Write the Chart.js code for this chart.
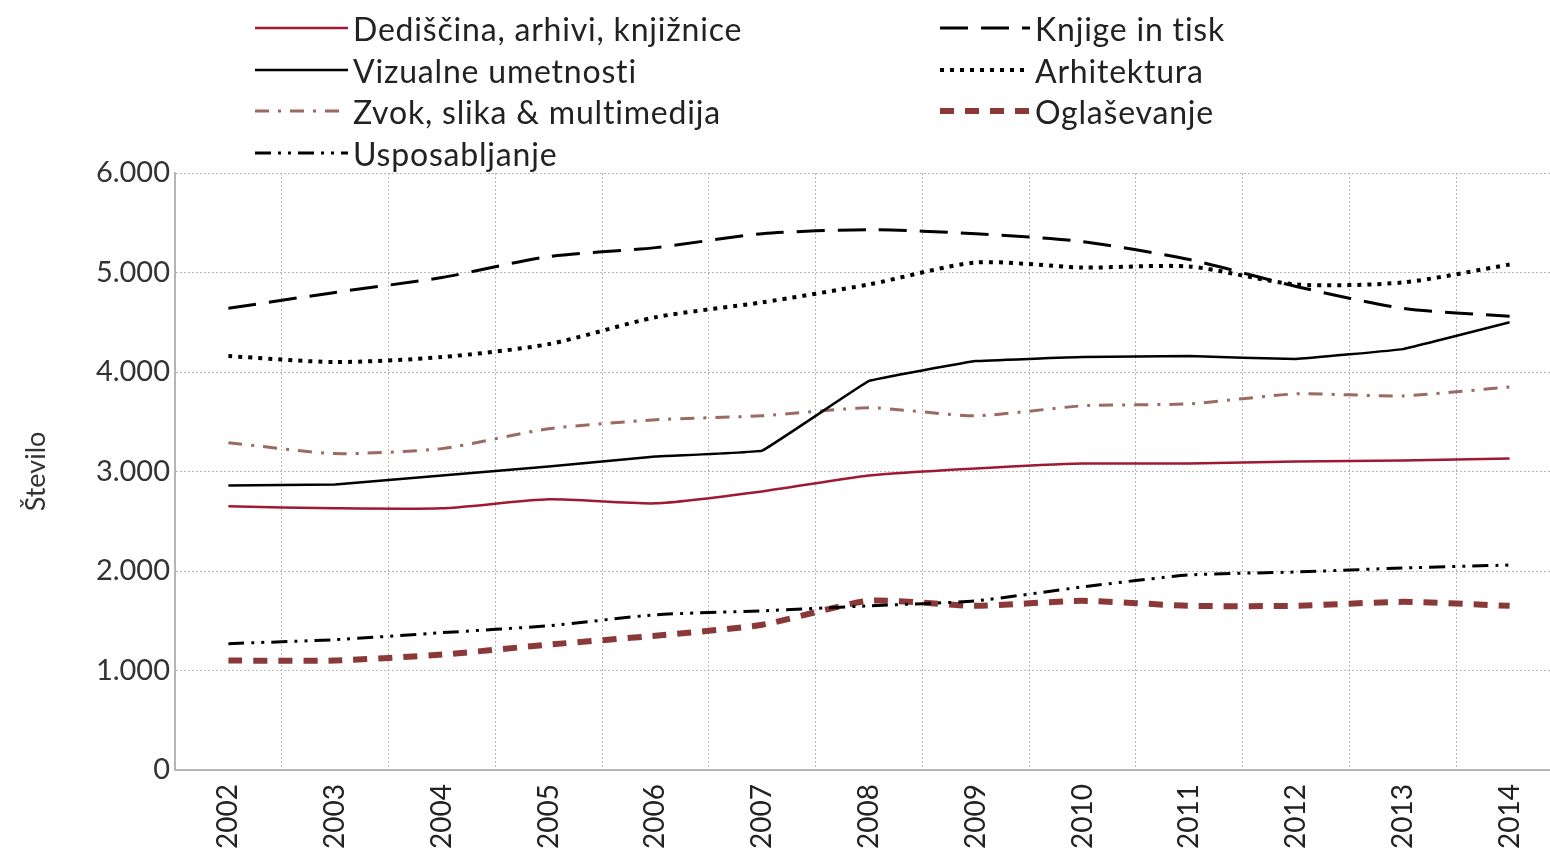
<!DOCTYPE html>
<html>
<head>
<meta charset="utf-8">
<script src="https://cdn.jsdelivr.net/npm/chart.js@4"></script>
<style>
html,body{margin:0;padding:0;background:#fff;overflow:hidden;}
#wrap{position:absolute;left:0;top:0;width:1570px;height:859px;}
#legend{position:absolute;left:0;top:0;width:1550px;height:175px;font-family:Lato,sans-serif;font-size:32px;letter-spacing:0.8px;color:#222;}
.item{position:absolute;display:flex;align-items:center;height:40px;white-space:nowrap;}
.item svg{margin-right:5px;}
</style>
</head>
<body>
<div id="wrap"><canvas id="c"></canvas></div>
<div id="legend"></div>
<script>
const years=['2002','2003','2004','2005','2006','2007','2008','2009','2010','2011','2012','2013','2014'];

const dediscina=[2650,2630,2630,2720,2680,2800,2960,3030,3080,3080,3100,3110,3130];
const vizualne=[2860,2870,2960,3050,3150,3210,3910,4110,4150,4160,4130,4230,4500];
const zvok=[3290,3180,3230,3430,3520,3560,3640,3560,3660,3680,3780,3760,3850];
const usposabljanje=[1270,1310,1380,1450,1560,1600,1650,1700,1840,1960,1990,2030,2060];
const knjige=[4640,4800,4950,5160,5250,5390,5430,5390,5310,5130,4860,4640,4560];
const arhitektura=[4160,4100,4150,4280,4550,4700,4880,5100,5050,5060,4880,4900,5080];
const oglasevanje=[1100,1100,1160,1260,1350,1460,1700,1650,1700,1650,1650,1690,1650];

const names=['Dediščina, arhivi, knjižnice','Vizualne umetnosti','Zvok, slika & multimedija','Usposabljanje','Knjige in tisk','Arhitektura','Oglaševanje'];
const series=[dediscina,vizualne,zvok,usposabljanje,knjige,arhitektura,oglasevanje];

// styles for each series, same order as names
const styles=[
  {color:'#9e1a32',width:2.5,dash:[],tension:0.2},
  {color:'#000000',width:2.5,dash:[],tension:0.05},
  {color:'#9b6a62',width:3,dash:[14,9,3,9],tension:0.2},
  {color:'#000000',width:3,dash:[16,7,3,7,3,7],tension:0.2},
  {color:'#000000',width:3,dash:[28,13],tension:0.25},
  {color:'#000000',width:4,dash:[4,6],tension:0.25},
  {color:'#8b3838',width:6,dash:[14,11],tension:0.2}
];
// legend placement: [x of sample, y centre, sample length]
const legendPos=[[255,28,93],[255,70,93],[255,111,93],[255,153,93],[940,28,90],[940,70,90],[940,111,90]];

const fmt=v=>String(v).replace(/\B(?=(\d{3})+(?!\d))/g,'.');

const leg=document.getElementById('legend');
names.forEach((n,i)=>{
  const s=styles[i],p=legendPos[i];
  const d=document.createElement('div');
  d.className='item';
  d.style.left=p[0]+'px';
  d.style.top=(p[1]-20)+'px';
  d.innerHTML='<svg width="'+p[2]+'" height="12"><line x1="0" y1="6" x2="'+p[2]+'" y2="6" stroke="'+s.color+'" stroke-width="'+s.width+'" stroke-dasharray="'+(s.dash.length?s.dash.join(' '):'none')+'"/></svg><span>'+n+'</span>';
  leg.appendChild(d);
});

Chart.defaults.font.family='Lato, sans-serif';
Chart.defaults.color='#333';

new Chart(document.getElementById('c'),{
  type:'line',
  data:{
    labels:years,
    datasets:series.map((d,i)=>({
      label:names[i],
      data:d,
      borderColor:styles[i].color,
      borderWidth:styles[i].width,
      borderDash:styles[i].dash,
      tension:styles[i].tension,
      pointRadius:0,
      fill:false
    }))
  },
  options:{
    responsive:true,
    maintainAspectRatio:false,
    animation:false,
    layout:{padding:{top:173,right:7,left:0,bottom:0}},
    plugins:{legend:{display:false},tooltip:{enabled:false}},
    scales:{
      x:{
        offset:true,
        grid:{color:'#b8b8b8',drawTicks:false,offset:true},
        border:{color:'#b5b5b5',width:2,dash:[2,2]},
        ticks:{minRotation:90,maxRotation:90,padding:14,font:{size:28},color:'#222'},
        afterFit:s=>{s.height=89;}
      },
      y:{
        min:0,max:6000,
        grid:{color:'#b8b8b8',drawTicks:false},
        border:{color:'#b5b5b5',width:2,dash:[2,2]},
        ticks:{stepSize:1000,padding:5,font:{size:29},color:'#333',callback:v=>fmt(v)},
        title:{display:true,text:'Število',font:{size:27},color:'#333',padding:{top:20,bottom:0}},
        afterFit:s=>{s.width=175;}
      }
    }
  }
});
</script>
</body>
</html>
